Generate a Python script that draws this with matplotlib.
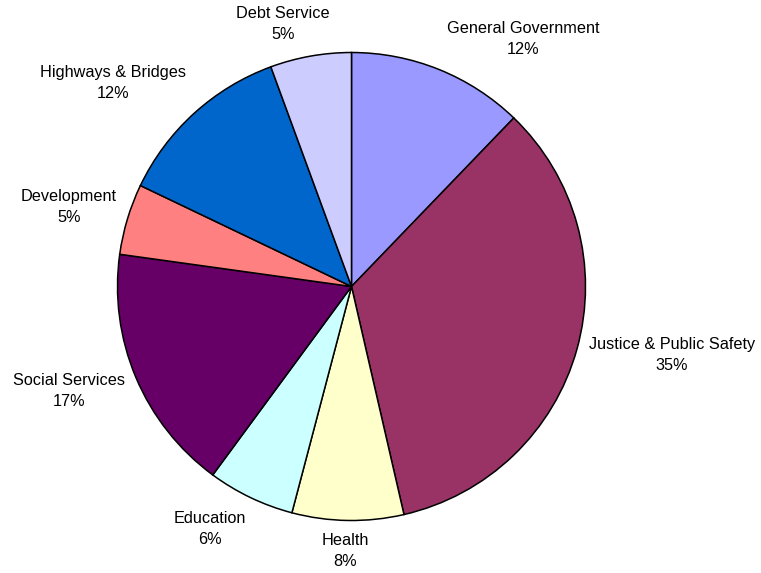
import matplotlib
matplotlib.use("Agg")
import matplotlib.pyplot as plt

categories = ["General Government", "Justice & Public Safety", "Health", "Education",
              "Social Services", "Development", "Highways & Bridges", "Debt Service"]
values = [12.2, 34.2, 7.7, 6.0, 17.1, 4.9, 12.3, 5.6]
pct_labels = ["12%", "35%", "8%", "6%", "17%", "5%", "12%", "5%"]
colors = ["#9999FF", "#993366", "#FFFFCC", "#CCFFFF", "#660066", "#FF8080", "#0066CC", "#CCCCFF"]

# label positions in pixel coordinates (center of two-line label)
label_px = [(523, 39), (672, 355), (345, 551), (210, 529), (69, 391), (69, 207), (113, 83), (283, 24)]

W, H = 761, 573
cx, cy, R = 351.5, 286.5, 234.0

fig = plt.figure(figsize=(W / 100, H / 100), dpi=100)
ax = fig.add_axes([0, 0, 1, 1])
ax.set_aspect("equal")
ax.axis("off")

ax.pie(values, colors=colors, startangle=90, counterclock=False, radius=1.0,
       wedgeprops=dict(edgecolor="black", linewidth=1.1), center=(0, 0), frame=False)
ax.set_xlim(-cx / R, (W - cx) / R)
ax.set_ylim(-(H - cy) / R, cy / R)

for cat, pct, (px, py) in zip(categories, pct_labels, label_px):
    x = (px - cx) / R
    y = (cy - py) / R
    ax.text(x, y, f"{cat}\n{pct}", ha="center", va="center", fontsize=11.7,
            family="Liberation Sans", linespacing=1.48)

fig.savefig("out.png", dpi=100)
